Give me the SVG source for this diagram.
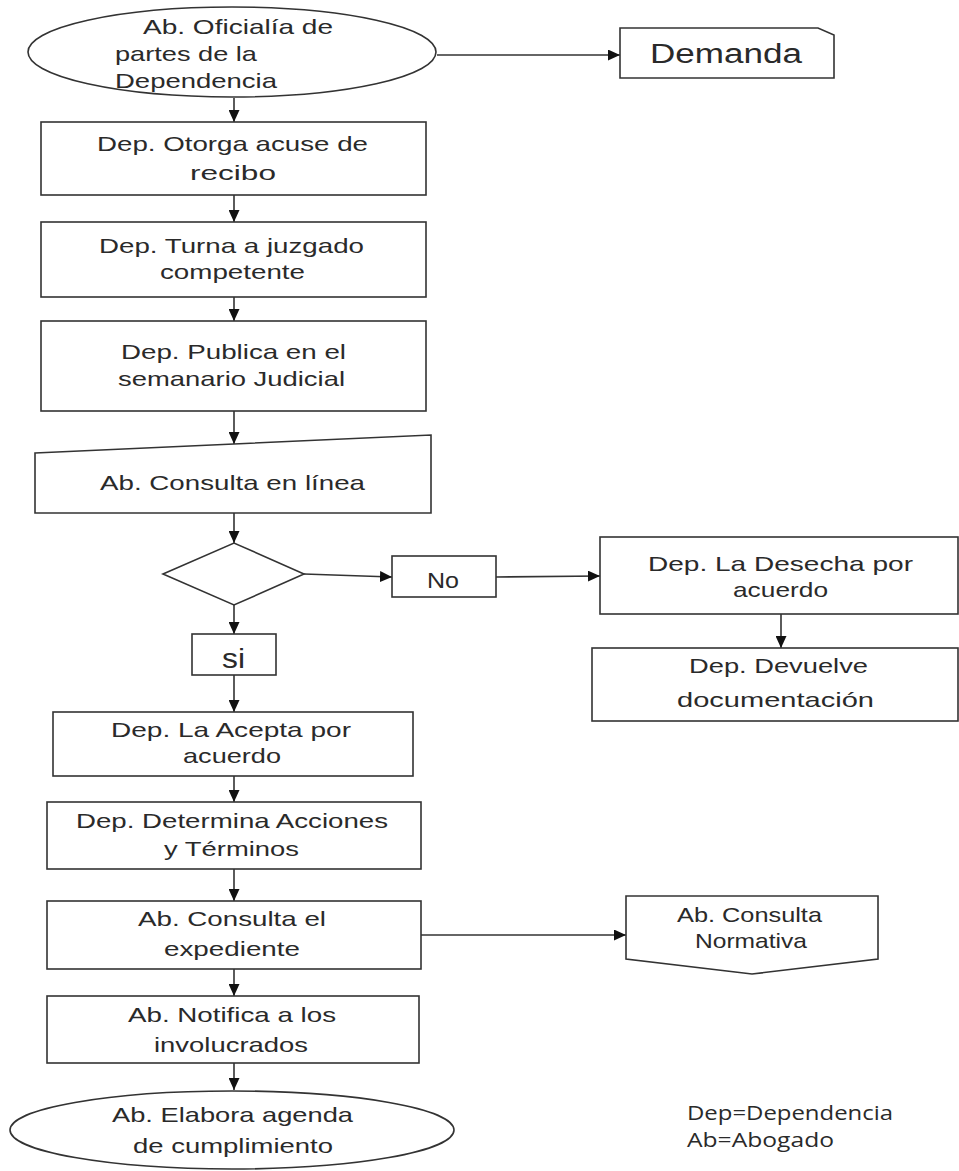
<svg xmlns="http://www.w3.org/2000/svg" width="959" height="1171" viewBox="0 0 959 1171">
<style>
.s{fill:#fff;stroke:#333;stroke-width:1.6}
.c{fill:none;stroke:#333;stroke-width:1.6}
.t{font-family:"Liberation Sans",Arial,sans-serif;font-size:21px;fill:#2a2a2a}
.l{font-family:"Open Sans","Noto Sans",sans-serif;font-size:20px;fill:#2a2a2a}
</style>
<defs>
<marker id="ah" markerUnits="userSpaceOnUse" markerWidth="12" markerHeight="11" refX="12" refY="5.5" orient="auto">
<path d="M0,0 L12,5.5 L0,11 z" fill="#111"/>
</marker>
</defs>
<rect width="959" height="1171" fill="#fff"/>
<g id="connectors">
<path class="c" d="M437,55 L620,55" marker-end="url(#ah)"/>
<path class="c" d="M234,98 L234,122" marker-end="url(#ah)"/>
<path class="c" d="M234,195 L234,222" marker-end="url(#ah)"/>
<path class="c" d="M234,297 L234,321" marker-end="url(#ah)"/>
<path class="c" d="M234,411 L234,444" marker-end="url(#ah)"/>
<path class="c" d="M234,513 L234,543" marker-end="url(#ah)"/>
<path class="c" d="M304,574 L392,577" marker-end="url(#ah)"/>
<path class="c" d="M496,577 L600,576" marker-end="url(#ah)"/>
<path class="c" d="M781,614 L781,648" marker-end="url(#ah)"/>
<path class="c" d="M234,605 L234,634" marker-end="url(#ah)"/>
<path class="c" d="M234,675 L234,712" marker-end="url(#ah)"/>
<path class="c" d="M234,776 L234,802" marker-end="url(#ah)"/>
<path class="c" d="M234,869 L234,901" marker-end="url(#ah)"/>
<path class="c" d="M421,935 L626,935" marker-end="url(#ah)"/>
<path class="c" d="M234,969 L234,996" marker-end="url(#ah)"/>
<path class="c" d="M234,1063 L234,1090" marker-end="url(#ah)"/>
</g>
<g id="n-oficialia">
<ellipse class="s" cx="232" cy="52" rx="204" ry="45"/>
<text class="t" x="143" y="34" textLength="190" lengthAdjust="spacingAndGlyphs">Ab. Oficialía de</text>
<text class="t" x="115" y="61" textLength="142" lengthAdjust="spacingAndGlyphs">partes de la</text>
<text class="t" x="115" y="88" textLength="162" lengthAdjust="spacingAndGlyphs">Dependencia</text>
</g>
<g id="n-demanda">
<path class="s" d="M620,28 L818,28 L834,35 L834,78 L620,78 Z"/>
<text class="t" x="650" y="63" style="font-size:27px" textLength="152" lengthAdjust="spacingAndGlyphs">Demanda</text>
</g>
<g id="n-otorga">
<rect class="s" x="41" y="122" width="385" height="73"/>
<text class="t" x="97" y="151" textLength="271" lengthAdjust="spacingAndGlyphs">Dep. Otorga acuse de</text>
<text class="t" x="190" y="180" textLength="86" lengthAdjust="spacingAndGlyphs">recibo</text>
</g>
<g id="n-turna">
<rect class="s" x="41" y="222" width="385" height="75"/>
<text class="t" x="99" y="253" textLength="265" lengthAdjust="spacingAndGlyphs">Dep. Turna a juzgado</text>
<text class="t" x="160" y="279" textLength="145" lengthAdjust="spacingAndGlyphs">competente</text>
</g>
<g id="n-publica">
<rect class="s" x="41" y="321" width="385" height="90"/>
<text class="t" x="121" y="359" textLength="225" lengthAdjust="spacingAndGlyphs">Dep. Publica en el</text>
<text class="t" x="118" y="386" textLength="227" lengthAdjust="spacingAndGlyphs">semanario Judicial</text>
</g>
<g id="n-consulta-linea">
<path class="s" d="M35,453 L431,435 L431,513 L35,513 Z"/>
<text class="t" x="100" y="490" textLength="265" lengthAdjust="spacingAndGlyphs">Ab. Consulta en línea</text>
</g>
<g id="n-decision">
<path class="s" d="M163,574 L234,543 L304,574 L234,605 Z"/>
</g>
<g id="n-no">
<rect class="s" x="392" y="556" width="104" height="41"/>
<text class="t" x="427" y="588" style="font-size:22px" textLength="32" lengthAdjust="spacingAndGlyphs">No</text>
</g>
<g id="n-desecha">
<rect class="s" x="600" y="537" width="358" height="77"/>
<text class="t" x="648" y="571" textLength="265" lengthAdjust="spacingAndGlyphs">Dep.  La Desecha por</text>
<text class="t" x="733" y="597" textLength="95" lengthAdjust="spacingAndGlyphs">acuerdo</text>
</g>
<g id="n-devuelve">
<rect class="s" x="592" y="648" width="366" height="73"/>
<text class="t" x="689" y="673" textLength="179" lengthAdjust="spacingAndGlyphs">Dep. Devuelve</text>
<text class="t" x="677" y="707" textLength="197" lengthAdjust="spacingAndGlyphs">documentación</text>
</g>
<g id="n-si">
<rect class="s" x="192" y="634" width="84" height="41"/>
<text class="t" x="222" y="668" style="font-size:28px" textLength="23" lengthAdjust="spacingAndGlyphs">si</text>
</g>
<g id="n-acepta">
<rect class="s" x="53" y="712" width="360" height="64"/>
<text class="t" x="111" y="737" textLength="240" lengthAdjust="spacingAndGlyphs">Dep. La Acepta por</text>
<text class="t" x="183" y="763" textLength="98" lengthAdjust="spacingAndGlyphs">acuerdo</text>
</g>
<g id="n-determina">
<rect class="s" x="47" y="802" width="374" height="67"/>
<text class="t" x="76" y="828" textLength="312" lengthAdjust="spacingAndGlyphs">Dep. Determina Acciones</text>
<text class="t" x="164" y="856" textLength="135" lengthAdjust="spacingAndGlyphs">y Términos</text>
</g>
<g id="n-expediente">
<rect class="s" x="47" y="901" width="374" height="68"/>
<text class="t" x="138" y="926" textLength="188" lengthAdjust="spacingAndGlyphs">Ab. Consulta el</text>
<text class="t" x="164" y="956" textLength="136" lengthAdjust="spacingAndGlyphs">expediente</text>
</g>
<g id="n-normativa">
<path class="s" d="M626,896 L878,896 L878,959 L752,974 L626,959 Z"/>
<text class="t" x="677" y="922" textLength="145" lengthAdjust="spacingAndGlyphs">Ab. Consulta</text>
<text class="t" x="695" y="948" textLength="112" lengthAdjust="spacingAndGlyphs">Normativa</text>
</g>
<g id="n-notifica">
<rect class="s" x="47" y="996" width="372" height="67"/>
<text class="t" x="128" y="1022" textLength="208" lengthAdjust="spacingAndGlyphs">Ab. Notifica a los</text>
<text class="t" x="154" y="1052" textLength="154" lengthAdjust="spacingAndGlyphs">involucrados</text>
</g>
<g id="n-agenda">
<ellipse class="s" cx="232" cy="1130" rx="222" ry="39"/>
<text class="t" x="112" y="1122" textLength="241" lengthAdjust="spacingAndGlyphs">Ab. Elabora agenda</text>
<text class="t" x="133" y="1153" textLength="200" lengthAdjust="spacingAndGlyphs">de cumplimiento</text>
</g>
<g id="legend">
<text class="l" x="687" y="1120" textLength="206" lengthAdjust="spacingAndGlyphs">Dep=Dependencia</text>
<text class="l" x="687" y="1147" textLength="147" lengthAdjust="spacingAndGlyphs">Ab=Abogado</text>
</g>
</svg>
